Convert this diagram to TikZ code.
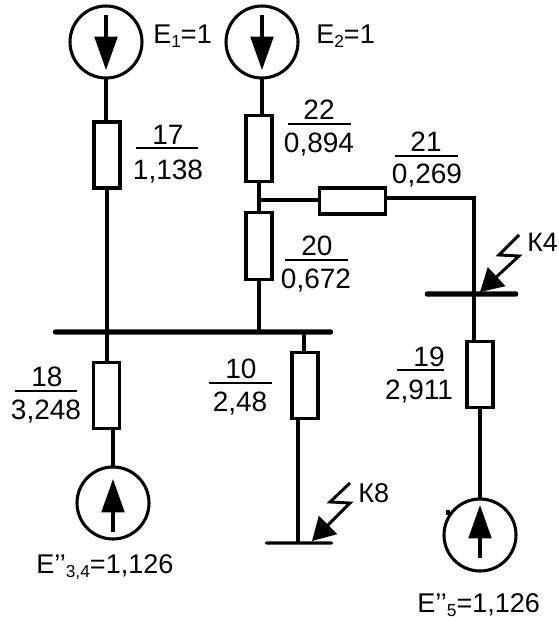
\documentclass[tikz,border=0pt]{standalone}
\usepackage{fontspec}
\setmainfont{Liberation Sans}
\usetikzlibrary{arrows.meta}
\newcommand{\subtxt}[1]{\raisebox{-3pt}{\fontsize{13}{13}\selectfont #1}}
\tikzset{
  wire/.style={line width=2.3pt},
  res/.style={draw,line width=2.3pt,fill=white,inner sep=0pt,outer sep=0pt,minimum width=#1},
  res/.default=19.5pt,
  src/.style={draw,circle,line width=2.3pt,inner sep=0pt,outer sep=0pt,minimum size=54pt},
  srcarrow/.style={line width=2.3pt,-{Triangle[length=25pt,width=17pt]}},
  busbar/.style={fill=black,rounded corners=1.5pt,inner sep=0pt,outer sep=0pt,minimum height=3.8pt},
  txt/.style={font=\fontsize{21}{21}\selectfont,inner sep=0pt,anchor=base},
  txtl/.style={font=\fontsize{20.3}{20.3}\selectfont,inner sep=0pt,anchor=base west},
  rulebar/.style={line width=1.5pt},
  fault/.style={line width=2.2pt,-{Triangle[length=17pt,width=19pt]}}
}
\begin{document}
\begin{tikzpicture}[x=0.75pt,y=-0.75pt]
\useasboundingbox (0,0) rectangle (558,621);

\node [src] (s1) at (106,42) {};
\node [src] (s2) at (262,42) {};
\node [src] (s3) at (113,503) {};
\node [src] (s5) at (480,535) {};

\node [busbar,minimum width=210pt] (bus1) at (193,332) {};
\node [busbar,minimum width=70pt] (bus4) at (471.5,294) {};
\node [busbar,minimum width=51pt,minimum height=2.4pt] (bus8) at (299,543) {};

\node [res,minimum height=49.5pt] (r17) at (107,155) {};
\node [res,minimum height=49pt] (r22) at (259,148.5) {};
\node [res,minimum height=50pt] (r20) at (259,246) {};
\node [res=50pt,minimum height=19.5pt] (r21) at (352.5,201) {};
\node [res,minimum height=49pt] (r18) at (106.5,395.5) {};
\node [res,minimum height=49pt] (r10) at (305,385.5) {};
\node [res,minimum height=49pt] (r19) at (480,374.5) {};

\coordinate (corner) at (474,198);

% wires
\draw [wire] (s1.south) -- (s1.south |- r17.north);
\draw [wire] (r17.south) -- (r17.south |- bus1.center);
\draw [wire] (s2.south) -- (s2.south |- r22.north);
\draw [wire] (r22.south) -- (r20.north);
\draw [wire] (r20.south) -- (r20.south |- bus1.center);
\draw [wire] (r22.south |- 0,200) -- (r21.west |- 0,200);
\draw [wire] (r21.east |- corner) -- (corner) -- (corner |- r19.north);
\draw [wire] (r17.south |- bus1.center) -- (r17.south |- r18.north);
\draw [wire] (s3.north |- r18.south) -- (s3.north);
\draw [wire] (304,332) -- (304,353);
\draw [wire] (298,418) -- (298,543);
\draw [wire] (r19.south -| s5.north) -- (s5.north);

% arrows in the sources
\draw [srcarrow] (106,15) -- (106,70);
\draw [srcarrow] (262,15) -- (262,70);
\draw [srcarrow] (113,532) -- (113,479);
\draw [srcarrow] (480,558) -- (480,505);
\draw [wire] (448,510) -- (448,515);

% short circuits
\draw [fault] (519,235) -- (499,255) -- (519,256) -- (480,292);
\draw [fault] (350,483) -- (330,502) -- (350,503) -- (312,541);

% fractions
\draw [rulebar] (136,148) -- (198,148);
\node [txt] (n17) at (168,144) {17};
\node [txt] (d17) at (168,179) {1,138};
\draw [rulebar] (288,124) -- (351,124);
\node [txt] (n22) at (319,119) {22};
\node [txt] (d22) at (319,152) {0,894};
\draw [rulebar] (395,156) -- (458,156);
\node [txt] (n21) at (426,151) {21};
\node [txt] (d21) at (427,183) {0,269};
\draw [rulebar] (285,260) -- (348,260);
\node [txt] (n20) at (317,255) {20};
\node [txt] (d20) at (316,288) {0,672};
\draw [rulebar] (15,391) -- (77,391);
\node [txt] (n18) at (47,386) {18};
\node [txt] (d18) at (46,419) {3,248};
\draw [rulebar] (209,383) -- (272,383);
\node [txt] (n10) at (241,378) {10};
\node [txt] (d10) at (240,411) {2,48};
\draw [rulebar] (397,370) -- (444,370);
\node [txt] (n19) at (429,366) {19};
\node [txt] (d19) at (419,399) {2,911};

% names
\node [txtl] (e1) at (153,43) {E\subtxt{1}=1};
\node [txtl] (e2) at (316,43) {E\subtxt{2}=1};
\node [txtl] (e34) at (36,573) {E’’\subtxt{3,4}=1,126};
\node [txtl] (e5) at (417,612) {E’’\subtxt{5}=1,126};
\node [font=\fontsize{20}{20}\selectfont,inner sep=0pt,anchor=base west] (k4) at (527,251) {К4};
\node [txtl] (k8) at (358,502) {К8};
\end{tikzpicture}
\end{document}
